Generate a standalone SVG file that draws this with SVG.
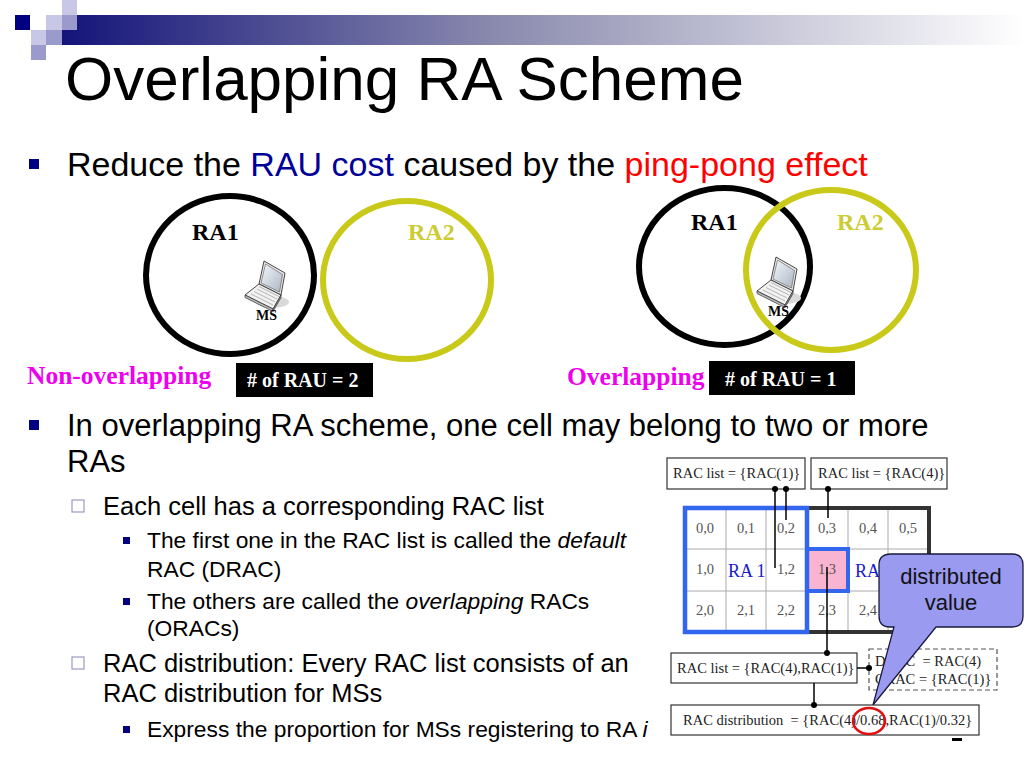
<svg xmlns="http://www.w3.org/2000/svg" xmlns:xlink="http://www.w3.org/1999/xlink" width="1024" height="768" viewBox="0 0 1024 768">
<style>
.sans{font-family:"Liberation Sans",Arial,sans-serif}
.serif{font-family:"Liberation Serif","Times New Roman",serif}
.l1{font-size:31px;fill:#000}
.l2{font-size:25.5px;fill:#000}
.l3{font-size:22.8px;fill:#000}
.ra{font-family:"Liberation Serif","Times New Roman",serif;font-weight:bold;font-size:24px}
.ms{font-family:"Liberation Serif","Times New Roman",serif;font-weight:bold;font-size:14px;fill:#000}
.mag{font-family:"Liberation Serif","Times New Roman",serif;font-weight:bold;font-size:25.5px;fill:#ee00ee}
.rau{font-family:"Liberation Serif","Times New Roman",serif;font-weight:bold;font-size:20px;fill:#fff}
.box{fill:#fff;stroke:#333;stroke-width:1.2}
.bt{font-family:"Liberation Serif","Times New Roman",serif;font-size:14.5px;fill:#222}
.cl{font-family:"Liberation Serif","Times New Roman",serif;font-size:14.5px;fill:#555;text-anchor:middle}
.rab{font-family:"Liberation Serif","Times New Roman",serif;font-size:18px;fill:#1a1acc}
.grid{stroke:#aaa;stroke-width:1}
.conn line{stroke:#000;stroke-width:1.5}
.conn circle{fill:#000}
.b1{fill:#000080}
.b2{fill:#fff;stroke:#9a9ac4;stroke-width:1.2}
.b3{fill:#000080}
</style>
<defs>
<linearGradient id="bar" x1="0" y1="0" x2="1" y2="0">
<stop offset="0" stop-color="#14147a"/>
<stop offset="0.45" stop-color="#8a8aae"/>
<stop offset="1" stop-color="#ffffff"/>
</linearGradient>
<linearGradient id="scr" x1="0" y1="0" x2="1" y2="1">
<stop offset="0" stop-color="#f4f7fb"/>
<stop offset="1" stop-color="#aab6c4"/>
</linearGradient>
<symbol id="laptop" overflow="visible">
<ellipse cx="38" cy="47" rx="16" ry="6" fill="#d9d9d9"/>
<polygon points="29,6 50,18 46,40 24,29" fill="#e6e6e6" stroke="#333" stroke-width="0.9"/>
<polygon points="30.5,9 47.5,19.5 44.5,37 26,28" fill="url(#scr)" stroke="#555" stroke-width="0.6"/>
<polygon points="10,40 24,29 46,40 38,54" fill="#f2f2f2" stroke="#333" stroke-width="0.9"/>
<polygon points="10,40 38,54 38,56.5 10,42.5" fill="#bbb" stroke="#333" stroke-width="0.7"/>
<polygon points="38,54 46,40 46,42.5 38,56.5" fill="#999" stroke="#333" stroke-width="0.7"/>
<g stroke="#888" stroke-width="0.6">
<line x1="16" y1="39" x2="38" y2="50"/>
<line x1="19" y1="36.5" x2="40" y2="47"/>
<line x1="22" y1="34" x2="42" y2="44"/>
<line x1="24" y1="31.5" x2="44" y2="41.5"/>
</g>
</symbol>
</defs>
<rect width="1024" height="768" fill="#fff"/>
<g id="header">
<rect x="62" y="15" width="962" height="30" fill="url(#bar)"/>
<rect x="62" y="15" width="15" height="15" fill="#9a9acc"/>
<rect x="62" y="0" width="15" height="15" fill="#c8c8e6"/>
<rect x="15" y="15" width="15" height="15" fill="#000080"/>
<rect x="46" y="15" width="16" height="15" fill="#c8c8e6"/>
<rect x="31" y="30" width="15" height="15" fill="#c8c8e6"/>
<rect x="46" y="30" width="16" height="15" fill="#9a9acc"/>
<rect x="31" y="45" width="15" height="15" fill="#9a9acc"/>
<text class="sans" x="65" y="100" font-size="62" fill="#000">Overlapping RA Scheme</text>
</g>
<g id="bullets">
<rect class="b1" x="29" y="159" width="10" height="10"/>
<text class="sans" x="67" y="176" font-size="34"><tspan fill="#000">Reduce the </tspan><tspan fill="#000099">RAU cost</tspan><tspan fill="#000"> caused by the </tspan><tspan fill="#ff0000">ping-pong effect</tspan></text>
<rect class="b1" x="29" y="420" width="10" height="10"/>
<text class="sans l1" x="67" y="436">In overlapping RA scheme, one cell may belong to two or more</text>
<text class="sans l1" x="67" y="472">RAs</text>
<rect class="b2" x="72" y="500" width="12" height="12"/>
<text class="sans l2" x="103" y="515">Each cell has a corresponding RAC list</text>
<rect class="b3" x="123" y="537" width="7" height="7"/>
<text class="sans l3" x="147" y="548">The first one in the RAC list is called the <tspan font-style="italic">default</tspan></text>
<text class="sans l3" x="147" y="577">RAC (DRAC)</text>
<rect class="b3" x="123" y="598" width="7" height="7"/>
<text class="sans l3" x="147" y="609">The others are called the <tspan font-style="italic">overlapping</tspan> RACs</text>
<text class="sans l3" x="147" y="636">(ORACs)</text>
<rect class="b2" x="72" y="657" width="12" height="12"/>
<text class="sans l2" x="103" y="672">RAC distribution: Every RAC list consists of an</text>
<text class="sans l2" x="103" y="702">RAC distribution for MSs</text>
<rect class="b3" x="123" y="726" width="7" height="7"/>
<text class="sans l3" x="147" y="737">Express the proportion for MSs registering to RA <tspan font-style="italic">i</tspan></text>
</g>
<g id="diagram-nonoverlapping">
<ellipse cx="230" cy="275" rx="84" ry="79" fill="none" stroke="#000" stroke-width="6"/>
<ellipse cx="407" cy="280" rx="84" ry="79" fill="none" stroke="#c9c91a" stroke-width="6"/>
<text class="ra" x="192" y="240" fill="#000">RA1</text>
<text class="ra" x="408" y="240" fill="#cccc33">RA2</text>
<use xlink:href="#laptop" x="235" y="255"/>
<text class="ms" x="256" y="320">MS</text>
<text class="mag" x="27" y="384">Non-overlapping</text>
<rect x="236" y="363" width="137" height="34" fill="#000"/>
<text class="rau" x="247" y="387">#&#160;of RAU = 2</text>
</g>
<g id="diagram-overlapping">
<ellipse cx="724.5" cy="266.5" rx="85.5" ry="78.5" fill="none" stroke="#000" stroke-width="6"/>
<ellipse cx="831" cy="270" rx="85" ry="80" fill="none" stroke="#c9c91a" stroke-width="6"/>
<text class="ra" x="691" y="230" fill="#000">RA1</text>
<text class="ra" x="837" y="230" fill="#cccc33">RA2</text>
<use xlink:href="#laptop" x="747" y="251"/>
<text class="ms" x="768" y="316">MS</text>
<text class="mag" x="567" y="385">Overlapping</text>
<rect x="709" y="361" width="146" height="34" fill="#000"/>
<text class="rau" x="725" y="386">#&#160;of RAU = 1</text>
</g>
<g id="grid">
<rect x="807" y="549" width="41" height="42" fill="#f8b4d0"/>
<g class="grid">
<line x1="726" y1="508" x2="726" y2="632"/>
<line x1="766" y1="508" x2="766" y2="632"/>
<line x1="848" y1="508" x2="848" y2="632"/>
<line x1="888" y1="508" x2="888" y2="632"/>
<line x1="685" y1="549" x2="929" y2="549"/>
<line x1="685" y1="591" x2="929" y2="591"/>
</g>
<text class="cl" x="705" y="533">0,0</text>
<text class="cl" x="746" y="533">0,1</text>
<text class="cl" x="786" y="533">0,2</text>
<text class="cl" x="827" y="533">0,3</text>
<text class="cl" x="868" y="533">0,4</text>
<text class="cl" x="908" y="533">0,5</text>
<text class="cl" x="705" y="574">1,0</text>
<text class="cl" x="786" y="574">1,2</text>
<text class="cl" x="827" y="574">1,3</text>
<text class="cl" x="705" y="615">2,0</text>
<text class="cl" x="746" y="615">2,1</text>
<text class="cl" x="786" y="615">2,2</text>
<text class="cl" x="827" y="615">2,3</text>
<text class="cl" x="868" y="615">2,4</text>
<text class="rab" x="728" y="577">RA 1</text>
<text class="rab" x="855" y="577">RA 2</text>
<rect x="807" y="508" width="122" height="124" fill="none" stroke="#333" stroke-width="4"/>
<rect x="685" y="508" width="122" height="124" fill="none" stroke="#3366ee" stroke-width="4.5"/>
<rect x="807" y="549" width="41" height="42" fill="none" stroke="#3366ee" stroke-width="4"/>
</g>
<g id="rac-list-1">
<rect class="box" x="667" y="458" width="138" height="31"/>
<text class="bt" x="673" y="478">RAC list = {RAC(1)}</text>
</g>
<g id="rac-list-4">
<rect class="box" x="811" y="458" width="136" height="31"/>
<text class="bt" x="818" y="478">RAC list = {RAC(4)}</text>
</g>
<g id="rac-list-41">
<rect class="box" x="671" y="653" width="186" height="30"/>
<text class="bt" x="677" y="673">RAC list = {RAC(4),RAC(1)}</text>
</g>
<g id="drac-box">
<rect x="869" y="649" width="128" height="41" fill="#fff" stroke="#555" stroke-width="1.2" stroke-dasharray="5,3"/>
<text class="bt" x="875" y="666" xml:space="preserve">DRAC  = RAC(4)</text>
<text class="bt" x="875" y="684">ORAC = {RAC(1)}</text>
</g>
<g id="rac-distribution">
<rect class="box" x="671" y="705" width="308" height="30"/>
<text class="bt" x="683" y="725" xml:space="preserve">RAC distribution  = {RAC(4)/0.68,RAC(1)/0.32}</text>
<ellipse cx="869" cy="721" rx="16" ry="13" fill="none" stroke="#e01010" stroke-width="2.5"/>
</g>
<g id="connectors" class="conn">
<line x1="775" y1="489" x2="775" y2="568"/>
<line x1="786" y1="489" x2="786" y2="520"/>
<line x1="828" y1="489" x2="828" y2="518"/>
<line x1="827" y1="567" x2="827" y2="653"/>
<line x1="857" y1="668" x2="869" y2="668"/>
<line x1="814" y1="683" x2="814" y2="705"/>
<circle cx="775" cy="489" r="3"/>
<circle cx="786" cy="489" r="3"/>
<circle cx="828" cy="489" r="3"/>
<circle cx="827" cy="653" r="3"/>
<circle cx="869" cy="668" r="3"/>
<circle cx="814" cy="705" r="3"/>
</g>
<g id="callout">
<path d="M891,554 H1012 Q1023,554 1023,565 V616 Q1023,627 1012,627 H936 L873,705 L894,627 H890 Q879,627 879,616 V565 Q879,554 891,554 Z" fill="#9a9af0" stroke="#1a1a40" stroke-width="1.3"/>
<text class="sans" x="951" y="584" font-size="22" fill="#111" text-anchor="middle">distributed</text>
<text class="sans" x="951" y="610" font-size="22" fill="#111" text-anchor="middle">value</text>
</g>
<rect x="952" y="738" width="10" height="3" fill="#000"/>
</svg>
